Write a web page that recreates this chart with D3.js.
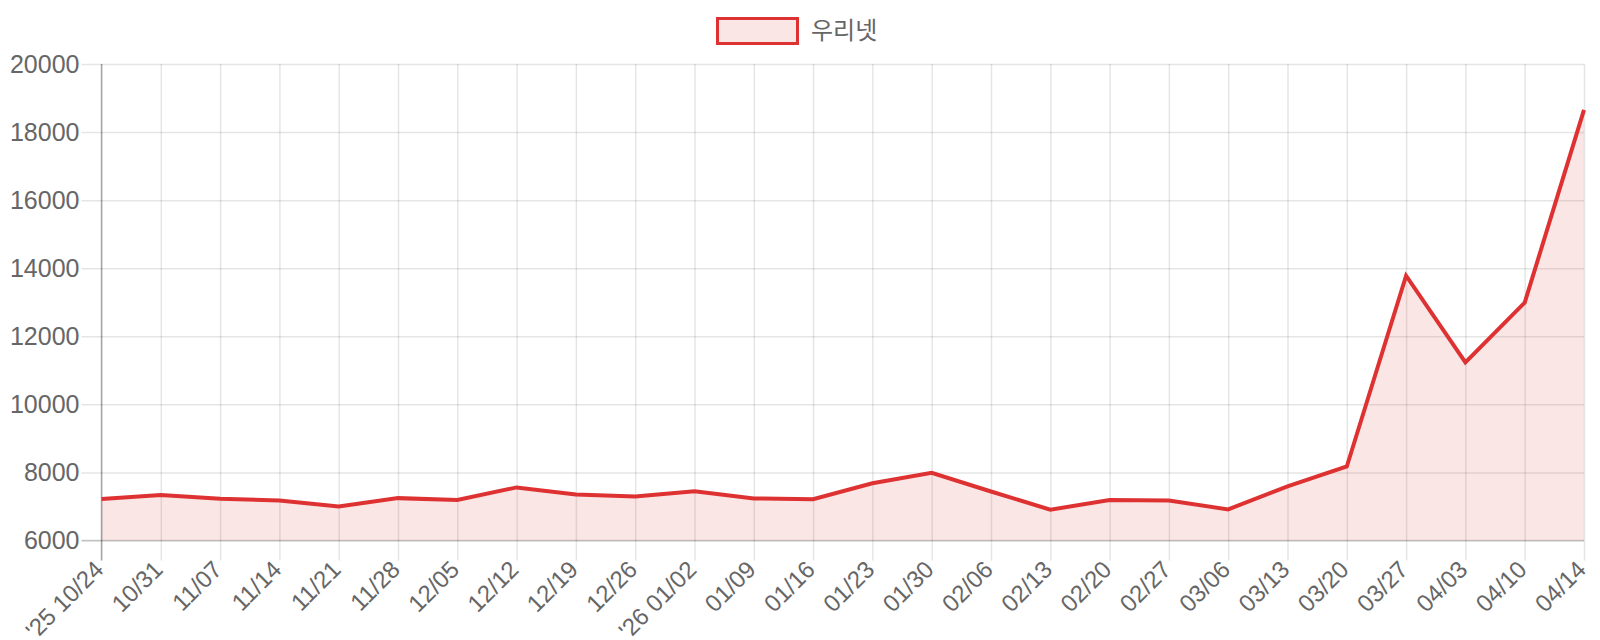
<!DOCTYPE html>
<html>
<head>
<meta charset="utf-8">
<script src="https://cdn.jsdelivr.net/npm/d3@7"></script>
<style>
  html, body { margin: 0; padding: 0; background: #fff; }
  svg { display: block; }
</style>
</head>
<body>
<svg id="chart" width="1600" height="640"></svg>
<script>
const seriesName = "우리넷";
const categories = ["'25 10/24","10/31","11/07","11/14","11/21","11/28","12/05","12/12","12/19","12/26",
  "'26 01/02","01/09","01/16","01/23","01/30","02/06","02/13","02/20","02/27","03/06",
  "03/13","03/20","03/27","04/03","04/10","04/14"];
const values = [7220,7340,7225,7175,7000,7245,7190,7560,7350,7290,
  7450,7235,7215,7680,7990,7440,6905,7190,7175,6915,
  7590,8175,13780,11230,12990,18650];
const yTicks = [6000,8000,10000,12000,14000,16000,18000,20000];

const svg = d3.select("#chart");
const m = {left: 101.5, right: 1584, top: 64, bottom: 540.5};
const lineColor = "rgb(222,50,50)";
const fillColor = "rgba(222,50,50,0.12)";
const labelFont = "'Liberation Sans', Arial, Helvetica, sans-serif";

const x = d3.scalePoint().domain(categories).range([m.left, m.right]);
const y = d3.scaleLinear().domain([6000, 20000]).range([m.bottom, m.top]);

// horizontal gridlines + y labels
const yAxis = d3.axisLeft(y).tickValues(yTicks).tickSize(m.right - m.left + 20).tickFormat(d3.format("d"));
const gy = svg.append("g").attr("transform", `translate(${m.right},0)`).call(yAxis);
gy.select(".domain").remove();
gy.selectAll(".tick line").attr("stroke", "rgba(0,0,0,0.1)").attr("stroke-width", 1.5);
gy.selectAll(".tick text").attr("x", -(m.right - m.left + 22)).attr("fill", "#666")
  .style("font-family", labelFont).style("font-size", "25px");

// vertical gridlines + x labels
const xAxis = d3.axisBottom(x).tickSize(m.bottom - m.top + 20);
const gx = svg.append("g").attr("transform", `translate(0,${m.top})`).call(xAxis);
gx.select(".domain").remove();
gx.selectAll(".tick line").attr("stroke", "rgba(0,0,0,0.1)").attr("stroke-width", 1.5);
gx.selectAll(".tick text")
  .attr("fill", "#666")
  .style("font-family", labelFont).style("font-size", "24px")
  .attr("text-anchor", "end")
  .attr("y", 0).attr("dy", "0.35em")
  .attr("transform", `translate(-3,${565 - m.top}) rotate(-45)`);

// area + line
const area = d3.area().x((d, i) => x(categories[i])).y0(y(6000)).y1(d => y(d));
svg.append("path").datum(values).attr("d", area).attr("fill", fillColor);

// axis lines
svg.append("line").attr("x1", m.left).attr("x2", m.left).attr("y1", m.top).attr("y2", m.bottom + 20)
  .attr("stroke", "rgba(0,0,0,0.3)").attr("stroke-width", 1.5);
svg.append("line").attr("x1", m.left - 20).attr("x2", m.right).attr("y1", m.bottom).attr("y2", m.bottom)
  .attr("stroke", "rgba(0,0,0,0.18)").attr("stroke-width", 1.5);

const line = d3.line().x((d, i) => x(categories[i])).y(d => y(d));
svg.append("path").datum(values).attr("d", line).attr("fill", "none")
  .attr("stroke", lineColor).attr("stroke-width", 4).attr("stroke-linejoin", "miter");

// legend
const lg = svg.append("g");
lg.append("rect").attr("x", 717.5).attr("y", 18.5).attr("width", 80).attr("height", 25)
  .attr("fill", fillColor).attr("stroke", lineColor).attr("stroke-width", 3);
lg.append("text").attr("x", 811).attr("y", 31).attr("dy", "0.35em").attr("fill", "#666")
  .style("font-family", "'Noto Sans CJK KR', 'Noto Sans', sans-serif").style("font-size", "24px")
  .text(seriesName);
</script>
</body>
</html>
